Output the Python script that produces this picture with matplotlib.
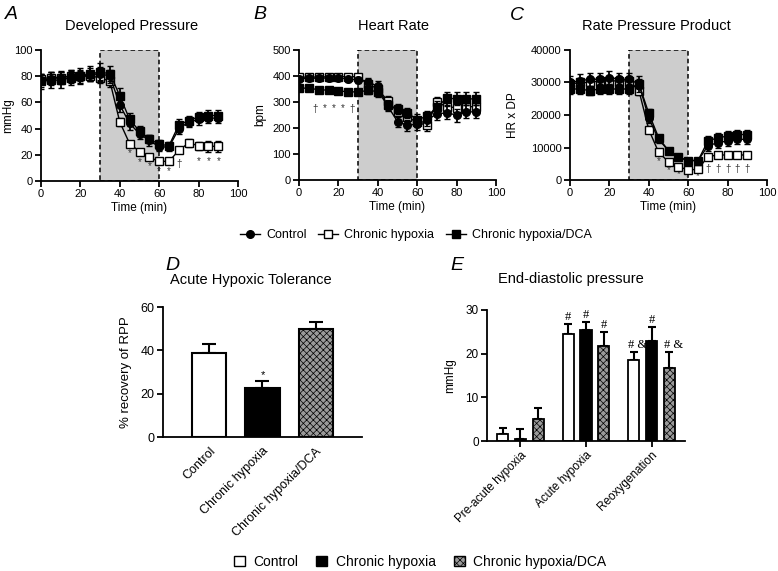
import matplotlib
matplotlib.use("Agg")
import matplotlib.pyplot as plt
from matplotlib.lines import Line2D
from matplotlib.patches import Patch

plt.rcParams['font.family'] = ['Liberation Sans', 'DejaVu Sans']
plt.rcParams['hatch.linewidth'] = 0.5

W, H = 778, 571

# ---- time course data (A, B, C) ----
time = [0, 5, 10, 15, 20, 25, 30, 35, 40, 45, 50, 55, 60, 65, 70, 75, 80, 85, 90]

dp_ctrl = [77, 78, 79, 80, 80, 81, 82, 80, 58, 44, 36, 31, 26, 26, 40, 45, 47, 48, 48]
dp_ch = [78, 79, 79, 80, 80, 80, 79, 76, 45, 28.5, 22.5, 18, 15, 15, 23.5, 29, 27, 26.5, 26.5]
dp_dca = [76, 77, 77, 79, 80, 82, 83, 82, 65, 47, 38, 32, 28, 27, 43, 46, 49, 50, 50]
dp_ctrl_err = [5, 5, 5, 5, 5, 5, 5, 5, 5, 5, 4, 4, 3, 3, 4, 4, 4, 4, 4]
dp_ch_err = [4, 4, 4, 4, 4, 4, 4, 4, 3, 2, 2, 2, 2, 2, 2, 3, 3, 4, 4]
dp_dca_err = [6, 6, 6, 6, 6, 6, 7, 6, 6, 5, 4, 3, 3, 3, 4, 4, 4, 4, 4]

hr_ctrl = [390, 391, 392, 392, 393, 388, 385, 378, 360, 285, 225, 210, 215, 230, 255, 258, 250, 262, 262]
hr_ch = [395, 396, 396, 397, 397, 398, 397, 370, 350, 305, 262, 242, 222, 210, 300, 282, 278, 282, 282]
hr_dca = [355, 352, 348, 345, 342, 340, 338, 345, 340, 288, 272, 258, 232, 245, 280, 315, 312, 312, 312]
hr_ctrl_err = [10, 10, 10, 10, 10, 10, 12, 15, 20, 20, 22, 22, 22, 22, 25, 25, 25, 25, 25]
hr_ch_err = [8, 8, 8, 8, 8, 8, 10, 15, 20, 20, 20, 20, 20, 20, 20, 20, 20, 20, 20]
hr_dca_err = [10, 10, 10, 10, 10, 10, 12, 15, 20, 20, 20, 20, 20, 20, 25, 25, 25, 25, 25]

rpp_ctrl = [30000, 30500, 31000, 31000, 31500, 31000, 31000, 29500, 19000, 12500, 9000, 7000, 6000, 6000, 10500, 11500, 12000, 12500, 12500]
rpp_ch = [29500, 30000, 30000, 30500, 30500, 30500, 30500, 27500, 15500, 8500, 5600, 4100, 3100, 3300, 7200, 7700, 7700, 7700, 7700]
rpp_dca = [28000, 28000, 27500, 28000, 28000, 28000, 28000, 29500, 20500, 13000, 9000, 7000, 6000, 6000, 12000, 13000, 13500, 14000, 14000]
rpp_ctrl_err = [2000, 2000, 2000, 2000, 2000, 2000, 2000, 2500, 1500, 1200, 1000, 800, 700, 700, 1500, 1500, 1500, 1500, 1500]
rpp_ch_err = [1500, 1500, 1500, 1500, 1500, 1500, 1500, 1500, 1000, 800, 600, 500, 500, 500, 800, 800, 800, 800, 800]
rpp_dca_err = [1500, 1500, 1500, 1500, 1500, 1500, 1500, 1500, 1200, 1000, 800, 700, 600, 600, 1500, 1500, 1500, 1500, 1500]

# significance marks: (time, y, symbol)
marks_a = [(45, 21, '*'), (50, 14.6, '*'), (55, 11.5, '*'), (60, 7.4, '*'), (65, 7.4, '*'),
           (70, 12.8, '†'), (80, 15.4, '*'), (85, 15.4, '*'), (90, 15.4, '*')]
marks_b = [(8.3, 272, '†'), (12.9, 275, '*'), (17.7, 275, '*'), (22.4, 275, '*'), (26.9, 272, '†')]
marks_c = [(45, 5800, '*'), (50, 2900, '*'), (55, 1700, '*'), (60, 900, '*'), (65, 1200, '*'),
           (70, 3400, '†'), (75, 3400, '†'), (80, 3400, '†'), (85, 3400, '†'), (90, 3400, '†')]

# ---- bar data (D, E) ----
groups = ['Control', 'Chronic hypoxia', 'Chronic hypoxia/DCA']
tol_vals = [39, 22.5, 50]
tol_err = [4, 3.5, 3]

edp_phases = ['Pre-acute hypoxia', 'Acute hypoxia', 'Reoxygenation']
edp_ctrl = [1.5, 24.5, 18.5]
edp_ch = [0.5, 25.5, 22.9]
edp_dca = [5, 21.7, 16.7]
edp_ctrl_err = [1.5, 2.2, 1.8]
edp_ch_err = [2.2, 1.8, 3.1]
edp_dca_err = [2.5, 3.3, 3.7]
edp_ctrl_lab = ['', '#', '# &']
edp_ch_lab = ['', '#', '#']
edp_dca_lab = ['', '#', '# &']

fig = plt.figure(figsize=(W / 100, H / 100), dpi=100)


def px(x, y):
    return x / W, 1 - y / H


def rect(left, top, right, bottom):
    return [left / W, 1 - bottom / H, (right - left) / W, (bottom - top) / H]


def style_axis(ax, size):
    for s in ['top', 'right']:
        ax.spines[s].set_visible(False)
    for s in ['left', 'bottom']:
        ax.spines[s].set_linewidth(1.3)
    ax.tick_params(direction='out', length=4, width=1.3, labelsize=size, pad=2)


def label(xy, s, size=10.5, **kw):
    fig.text(*px(*xy), s, fontsize=size, ha=kw.pop('ha', 'center'), va=kw.pop('va', 'center'), **kw)


def time_panel(r, ylabel, ymax, yticks, ctrl, ce, ch, he, dca, de, marks, ylab_x):
    ax = fig.add_axes(r)
    ax.axvspan(30, 60, facecolor='#cdcdcd', edgecolor='black', linestyle=(0, (3, 2)),
               linewidth=1.1, zorder=0)
    kw = dict(capsize=2.5, elinewidth=1.3, capthick=1.3, linewidth=1.0, color='black',
              markersize=5.5, markeredgewidth=1.0)
    ax.errorbar(time, ch, yerr=he, marker='s', markerfacecolor='white', zorder=3, **kw)
    ax.errorbar(time, ctrl, yerr=ce, marker='o', markerfacecolor='black', zorder=4, **kw)
    ax.errorbar(time, dca, yerr=de, marker='s', markerfacecolor='black', zorder=4, **kw)
    for tx, ty, sym in marks:
        ax.text(tx, ty, sym, ha='center', va='center', fontsize=7, color='#333333')
    ax.set_xlim(0, 100)
    ax.set_ylim(0, ymax)
    ax.set_xticks([0, 20, 40, 60, 80, 100])
    ax.set_yticks(yticks)
    ax.set_xlabel('Time (min)', fontsize=8.5, labelpad=2)
    ax.set_ylabel(ylabel, fontsize=8.5)
    ax.yaxis.set_label_coords((ylab_x - r[0] * W) / (r[2] * W), 0.5)
    style_axis(ax, 8)
    return ax


time_panel(rect(41, 50, 238, 181), 'mmHg', 100, [0, 20, 40, 60, 80, 100],
           dp_ctrl, dp_ctrl_err, dp_ch, dp_ch_err, dp_dca, dp_dca_err, marks_a, 14)
time_panel(rect(299, 50, 496, 180), 'bpm', 500, [0, 100, 200, 300, 400, 500],
           hr_ctrl, hr_ctrl_err, hr_ch, hr_ch_err, hr_dca, hr_dca_err, marks_b, 266)
time_panel(rect(570, 50, 767, 180), 'HR x DP', 40000, [0, 10000, 20000, 30000, 40000],
           rpp_ctrl, rpp_ctrl_err, rpp_ch, rpp_ch_err, rpp_dca, rpp_dca_err, marks_c, 519)

label((132, 26), 'Developed Pressure')
label((394, 26), 'Heart Rate')
label((656, 26), 'Rate Pressure Product')
for xy, s in [((5, 6), 'A'), ((253, 6), 'B'), ((510, 7), 'C'), ((165, 257), 'D'), ((450, 257), 'E')]:
    label(xy, s, size=14, style='italic', ha='left', va='top')

# legend for time course panels
handles = [
    Line2D([], [], color='black', marker='o', markerfacecolor='black', markersize=5.5, lw=1),
    Line2D([], [], color='black', marker='s', markerfacecolor='white', markersize=5.5, lw=1),
    Line2D([], [], color='black', marker='s', markerfacecolor='black', markersize=5.5, lw=1),
]
fig.legend(handles, groups, loc='center', bbox_to_anchor=px(416, 235), ncol=3,
           frameon=False, fontsize=9, handlelength=1.6, handletextpad=0.5, columnspacing=0.9)

fills = ['white', 'black', '#9a9a9a']
hatches = [None, None, 'xxxxx']

# ---- D ----
axd = fig.add_axes(rect(163, 307, 362, 437))
xd = list(range(len(groups)))
for i in xd:
    axd.bar(i, tol_vals[i], width=0.64, color=fills[i], edgecolor='black', linewidth=1.5,
            hatch=hatches[i], zorder=2)
    axd.errorbar(i, tol_vals[i], yerr=[[0], [tol_err[i]]], color='black', capsize=5,
                 elinewidth=1.5, capthick=1.5, zorder=1)
axd.text(1, tol_vals[1] + tol_err[1] + 2.5, '*', ha='center', va='center', fontsize=8)
axd.set_xlim(-0.87, 2.87)
axd.set_ylim(0, 60)
axd.set_yticks([0, 20, 40, 60])
axd.set_xticks(xd)
axd.set_xticklabels(groups, rotation=45, ha='right', rotation_mode='anchor', fontsize=10)
axd.set_ylabel('% recovery of RPP', fontsize=9.5, labelpad=6)
style_axis(axd, 9)
axd.tick_params(axis='x', length=0, pad=6)
label((251, 280), 'Acute Hypoxic Tolerance')

# ---- E ----
axe = fig.add_axes(rect(487, 310, 685, 441))
xe = list(range(len(edp_phases)))
series = [(edp_ctrl, edp_ctrl_err, edp_ctrl_lab), (edp_ch, edp_ch_err, edp_ch_lab),
          (edp_dca, edp_dca_err, edp_dca_lab)]
offsets = [-0.272, 0.0, 0.272]
for k, (vals, errs, labs) in enumerate(series):
    xs = [x + offsets[k] for x in xe]
    axe.bar(xs, vals, width=0.17, color=fills[k], edgecolor='black', linewidth=1.3,
            hatch=hatches[k], zorder=2)
    axe.errorbar(xs, vals, yerr=[[0] * len(errs), errs], fmt='none', ecolor='black', capsize=3,
                 elinewidth=1.5, capthick=1.5, zorder=1)
    for x, v, e, lab in zip(xs, vals, errs, labs):
        if lab:
            axe.text(x + (0.06 if '&' in lab else 0), v + e + 1.6, lab, ha='center', va='center',
                     fontsize=9, family='Liberation Serif')
axe.set_xlim(-0.51, 2.51)
axe.set_ylim(0, 30)
axe.set_yticks([0, 10, 20, 30])
axe.set_xticks(xe)
axe.set_xticklabels(edp_phases, rotation=45, ha='right', rotation_mode='anchor', fontsize=10)
axe.set_ylabel('mmHg', fontsize=8.5, labelpad=7)
style_axis(axe, 8.5)
label((571, 279), 'End-diastolic pressure')

# legend for bar panels
patches = [Patch(facecolor=fills[i], edgecolor='black', hatch=hatches[i], linewidth=1) for i in range(3)]
fig.legend(patches, groups, loc='center', bbox_to_anchor=px(420, 562), ncol=3,
           frameon=False, fontsize=10, handlelength=0.8, handleheight=0.8, handletextpad=0.6,
           columnspacing=1.3)

fig.savefig('out.png', dpi=100)
